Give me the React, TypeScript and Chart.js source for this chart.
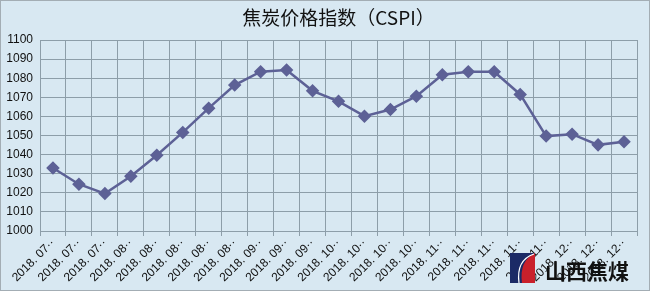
import React, { useEffect, useRef } from "react";
import { Chart, registerables } from "chart.js";
Chart.register(...registerables);

const months = ["07", "07", "07", "08", "08", "08", "08", "08", "09", "09", "09", "10", "10", "10", "10", "11", "11", "11", "11", "11", "12", "12", "12"];
const categories = months.map((m) => "2018. " + m + "··");
const values = [1033, 1024.5, 1019.6, 1028.7, 1039.7, 1051.6, 1064.3, 1076.4, 1083.4, 1084.3, 1073.4, 1067.9, 1060.1, 1063.6, 1070.6, 1081.8, 1083.4, 1083.4, 1071.5, 1049.7, 1050.7, 1045.1, 1046.7];
const yTicks = { min: 1000, max: 1100, step: 10 };
const titleText = "焦炭价格指数（CSPI）";
const logoText = "山西焦煤";

const BG = "#d8e8f2";
const GRID = "#8d9ea9";
const LINE = "#5d6196";

const decorPlugin = {
  id: "decor",
  beforeDraw(chart: any) {
    const ctx = chart.ctx;
    ctx.save();
    ctx.fillStyle = BG;
    ctx.fillRect(0, 0, chart.width, chart.height);
    ctx.restore();
  },
  afterDraw(chart: any) {
    const ctx = chart.ctx;
    const area = chart.chartArea;
    ctx.save();
    // title
    ctx.fillStyle = "#111";
    ctx.font = "19px 'Noto Sans CJK SC'";
    ctx.textAlign = "center";
    ctx.textBaseline = "middle";
    ctx.fillText(titleText, (area.left + area.right) / 2, 18);
    // logo
    const lx = 510, ly = 253;
    ctx.fillStyle = "#1b2a66";
    ctx.fillRect(lx, ly, 25, 30);
    ctx.fillStyle = "#c9202b";
    ctx.beginPath();
    ctx.moveTo(lx + 25, ly);
    ctx.lineTo(lx + 25, ly + 30);
    ctx.lineTo(lx + 12, ly + 30);
    ctx.quadraticCurveTo(lx + 9, ly + 8, lx + 25, ly);
    ctx.closePath();
    ctx.fill();
    ctx.strokeStyle = "#ffffff";
    ctx.lineWidth = 1.2;
    ctx.beginPath();
    ctx.moveTo(lx + 9, ly + 30);
    ctx.quadraticCurveTo(lx + 6, ly + 7, lx + 24, ly + 1);
    ctx.stroke();
    ctx.fillStyle = "#111";
    ctx.font = "bold 21px 'Noto Sans CJK SC'";
    ctx.textAlign = "left";
    ctx.textBaseline = "middle";
    ctx.fillText(logoText, 545, 271);
    // outer border
    ctx.strokeStyle = "#a3adb4";
    ctx.lineWidth = 1;
    ctx.strokeRect(0.5, 0.5, chart.width - 1, chart.height - 1);
    ctx.restore();
  },
};

export default function App() {
  const ref = useRef<HTMLCanvasElement>(null);
  useEffect(() => {
    document.body.style.margin = "0";
    const chart = new Chart(ref.current!, {
      type: "line",
      data: {
        labels: categories,
        datasets: [
          {
            data: values,
            borderColor: LINE,
            backgroundColor: LINE,
            borderWidth: 2.5,
            pointStyle: "rectRot",
            pointRadius: 5,
            pointBackgroundColor: LINE,
            pointBorderColor: LINE,
            tension: 0,
          },
        ],
      },
      options: {
        animation: false,
        responsive: false,
        maintainAspectRatio: false,
        layout: { padding: { top: 40, right: 13, left: 0, bottom: 0 } },
        plugins: { legend: { display: false }, title: { display: false }, tooltip: { enabled: false } },
        scales: {
          x: {
            type: "category",
            offset: true,
            grid: { offset: true, color: GRID, tickLength: 5, drawTicks: true, tickColor: GRID },
            border: { color: GRID },
            ticks: {
              autoSkip: false,
              maxRotation: 45,
              minRotation: 45,
              color: "#111",
              padding: 0,
              font: { family: "'Liberation Sans'", size: 12 },
            },
            afterFit: (s: any) => { s.height = 60; },
          },
          y: {
            min: yTicks.min,
            max: yTicks.max,
            grid: { color: GRID, drawTicks: false },
            border: { color: GRID },
            ticks: {
              stepSize: yTicks.step,
              color: "#111",
              padding: 7,
              font: { family: "'Liberation Sans'", size: 12 },
              callback: (v: any) => String(v),
            },
            afterFit: (s: any) => { s.width = 40; },
          },
        },
      },
      plugins: [decorPlugin],
    });
    return () => chart.destroy();
  }, []);
  return (
    <div style={{ width: 650, height: 291 }}>
      <canvas ref={ref} width={650} height={291} style={{ display: "block" }} />
    </div>
  );
}
